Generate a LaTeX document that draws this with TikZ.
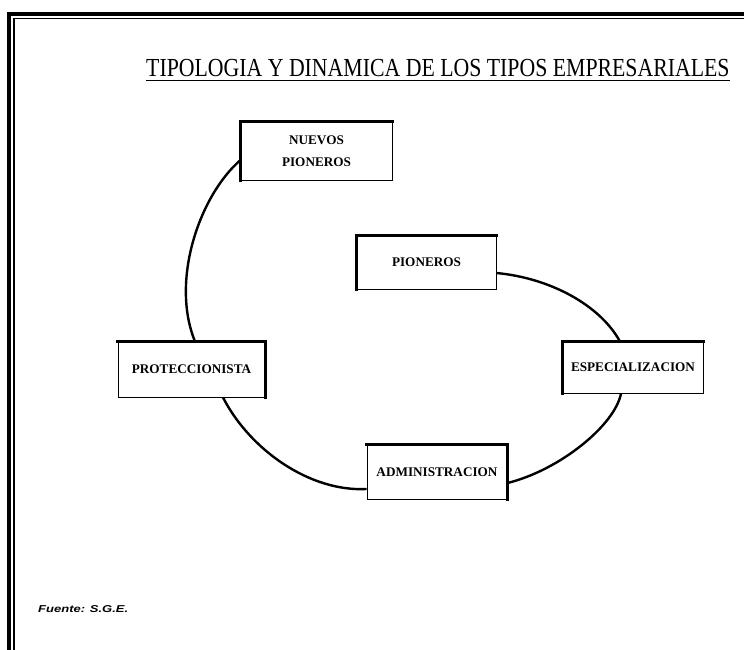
\documentclass[tikz,border=0pt]{standalone}
\usepackage{fontspec}
\setmainfont{Liberation Serif}
\newfontfamily\srcfont{Liberation Sans}
\usetikzlibrary{calc}
\begin{document}
\begin{tikzpicture}[x=1pt,y=-1pt,
  box/.style={draw=black,line width=0.9pt,fill=white,inner sep=0pt,align=center,
    font=\fontsize{13.2}{22}\selectfont\bfseries},
  thickedge/.style={line width=3pt,line cap=rect},
  link/.style={line width=2.4pt},
  frame/.style={draw=black}]
\useasboundingbox (0,0) rectangle (744,650);
% page frame
\draw[frame,line width=3.5pt] (9,650) -- (9,14) -- (744,14);
\draw[frame,line width=1.5pt] (14,650) -- (14,18.5) -- (744,18.5);
% title
\node[anchor=base west,inner sep=0pt] (title) at (146,77)
  {\scalebox{0.838}[1]{\fontsize{26}{26}\selectfont TIPOLOGIA Y DINAMICA DE LOS TIPOS EMPRESARIALES}};
\draw[line width=1.5pt] ($(title.base west)+(0,3.5)$) -- ($(title.base east)+(0,3.5)$);
% boxes
\node[box,minimum width=151pt,minimum height=58pt] (nuevos) at (316.5,151) {NUEVOS\\PIONEROS};
\node[box,minimum width=139pt,minimum height=53pt] (pioneros) at (426.5,262.5) {PIONEROS};
\node[box,minimum width=147pt,minimum height=55pt] (protec) at (191.5,369.5) {PROTECCIONISTA};
\node[box,minimum width=140pt,minimum height=51pt] (espec) at (633,367.5) {ESPECIALIZACION};
\node[box,minimum width=140pt,minimum height=54pt] (admin) at (437,472) {ADMINISTRACION};
% thick edges
\draw[thickedge] (nuevos.south west) -- (nuevos.north west) -- (nuevos.north east);
\draw[thickedge] (pioneros.south west) -- (pioneros.north west) -- (pioneros.north east);
\draw[thickedge] (espec.south west) -- (espec.north west) -- (espec.north east);
\draw[thickedge] (protec.north west) -- (protec.north east) -- (protec.south east);
\draw[thickedge] (admin.north west) -- (admin.north east) -- (admin.south east);
% connectors
\draw[link] ($(nuevos.west)+(0,9)$) .. controls (200,195) and (170,280) .. ($(protec.north)+(3.5,0)$);
\draw[link] ($(protec.south)+(31.5,0)$) .. controls (250,450) and (310,492) .. ($(admin.west)+(0,17)$);
\draw[link] ($(admin.east)+(0,11)$) .. controls (560,470) and (615,425) .. ($(espec.south)+(-12,0)$);
\draw[link] ($(espec.north)+(-13,0)$) .. controls (600,305) and (550,278) .. ($(pioneros.east)+(0,10.5)$);
% source
\node[anchor=west,inner sep=0pt] (src) at (38,609)
  {\scalebox{1.3}[1]{\srcfont\fontsize{10}{10}\selectfont\bfseries\itshape Fuente: S.G.E.}};
\end{tikzpicture}
\end{document}
